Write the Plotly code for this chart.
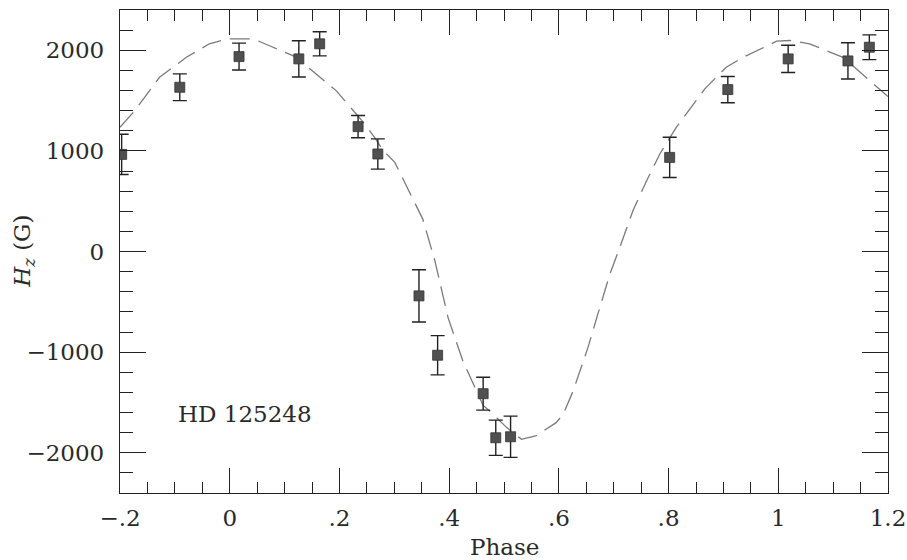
import plotly.graph_objects as go

# Observed data points (phase, H_z in gauss, 1-sigma error)
obs_phase = [-0.197, -0.091, 0.017, 0.126, 0.164, 0.234, 0.270, 0.345, 0.379,
             0.462, 0.485, 0.512, 0.802, 0.908, 1.018, 1.127, 1.166]
obs_field = [965, 1632, 1937, 1914, 2064, 1241, 969, -441, -1031,
             -1413, -1851, -1841, 935, 1609, 1914, 1894, 2030]
obs_err = [200, 133, 134, 180, 120, 110, 150, 260, 195,
           163, 175, 205, 200, 130, 135, 180, 123]

# Fitted curve (dashed)
fit_phase = [-0.200, -0.173, -0.164, -0.128, -0.079, -0.037, -0.003, 0.043, 0.079,
             0.115, 0.146, 0.194, 0.246, 0.264, 0.280, 0.301, 0.328, 0.352, 0.374,
             0.398, 0.425, 0.443, 0.462, 0.477, 0.490, 0.505, 0.532, 0.559, 0.595,
             0.608, 0.626, 0.653, 0.671, 0.693, 0.711, 0.735, 0.760, 0.784, 0.814,
             0.851, 0.866, 0.905, 0.936, 0.997, 1.021, 1.057, 1.118, 1.191, 1.200]
fit_field = [1234, 1400, 1467, 1731, 1930, 2064, 2113, 2113, 2030,
             1947, 1815, 1599, 1268, 1134, 1002, 886, 587, 322, -93,
             -657, -1088, -1303, -1530, -1600, -1668, -1750, -1867, -1830, -1701,
             -1618, -1386, -955, -623, -225, 40, 405, 703, 969, 1234,
             1500, 1616, 1831, 1930, 2090, 2097, 2064, 1930, 1582, 1540]

x_tickvals = [-0.2, 0, 0.2, 0.4, 0.6, 0.8, 1.0, 1.2]
x_ticktext = ["\u2212.2", "0", ".2", ".4", ".6", ".8", "1", "1.2"]
y_tickvals = [-2000, -1000, 0, 1000, 2000]
y_ticktext = ["\u22122000", "\u22121000", "0", "1000", "2000"]

star_label = "HD 125248"
x_title = "Phase"
y_title = "<i>H<sub>z</sub></i> (G)"

FONT = "DejaVu Serif"
INK = "#2a2a2a"

fig = go.Figure()
fig.add_trace(go.Scatter(
    x=fit_phase, y=fit_field, mode="lines",
    line=dict(color="#7a7a7a", width=1.3, dash="20px,9px"),
    hoverinfo="skip", showlegend=False,
))
fig.add_trace(go.Scatter(
    x=obs_phase, y=obs_field, mode="markers",
    marker=dict(symbol="square", size=10, color="#505050",
                line=dict(color="#333333", width=0.8)),
    error_y=dict(type="data", array=obs_err, visible=True,
                 color="#222222", thickness=1.4, width=7),
    showlegend=False,
))

fig.add_annotation(x=-0.098, y=-1618, text=star_label, showarrow=False,
                   xanchor="left", yanchor="middle",
                   font=dict(family=FONT, size=23, color=INK))
fig.add_annotation(xref="paper", yref="paper", x=0.5, y=-0.112, text=x_title,
                   showarrow=False, xanchor="center", yanchor="middle",
                   font=dict(family=FONT, size=23, color=INK))
fig.add_annotation(xref="paper", yref="paper", x=-0.126, y=0.5, text=y_title,
                   showarrow=False, xanchor="center", yanchor="middle", textangle=-90,
                   font=dict(family=FONT, size=23, color=INK))

axis_common = dict(
    showline=True, linecolor="#222222", linewidth=1.4, mirror="ticks",
    ticks="inside", tickcolor="#222222", tickwidth=1.3,
    showgrid=False, zeroline=False, automargin=False,
    tickfont=dict(family=FONT, size=23, color=INK),
)

fig.update_xaxes(
    range=[-0.2, 1.2], tickmode="array", tickvals=x_tickvals, ticktext=x_ticktext,
    ticklen=25, ticklabelstandoff=4,
    minor=dict(dtick=0.05, tick0=0, ticks="inside", ticklen=11,
               tickcolor="#222222", tickwidth=1.2, showgrid=False),
    **axis_common,
)
fig.update_yaxes(
    range=[-2400, 2400], tickmode="array", tickvals=y_tickvals, ticktext=y_ticktext,
    ticklen=26, ticklabelstandoff=10,
    minor=dict(dtick=200, tick0=0, ticks="inside", ticklen=13,
               tickcolor="#222222", tickwidth=1.2, showgrid=False),
    **axis_common,
)

fig.update_layout(
    width=907, height=560,
    margin=dict(l=120, r=19, t=10, b=67),
    plot_bgcolor="white", paper_bgcolor="white",
)

fig.write_html("out.html")
